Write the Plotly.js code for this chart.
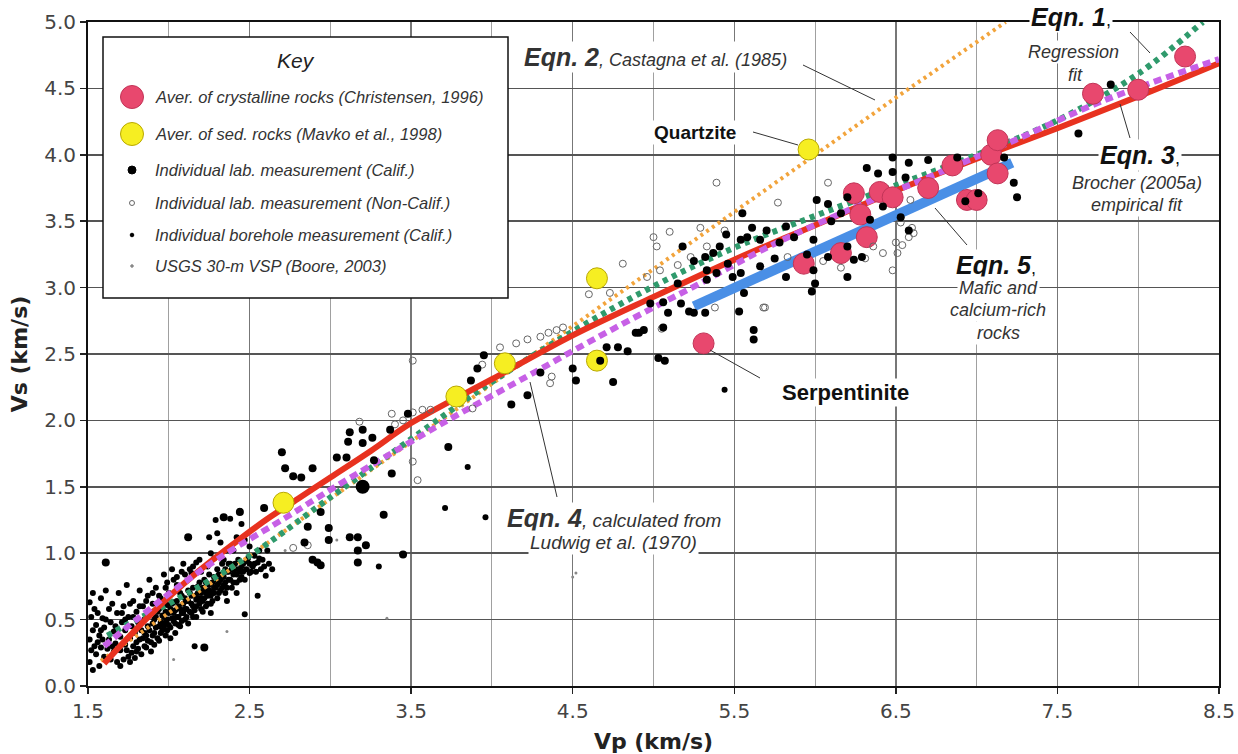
<!DOCTYPE html>
<html><head><meta charset="utf-8">
<script src="https://cdn.plot.ly/plotly-3.0.1.min.js"></script>
<style>html,body{margin:0;padding:0;background:#fff}#chart{width:1238px;height:754px}</style>
</head><body><div id="chart"></div>
<script>
// ---------------- DATA ----------------
// Eqn. 1 – regression fit (green dashed)
const eqn1Vp = [1.62,1.8,2.0,2.5,3.0,3.5,4.0,4.5,5.0,5.5,6.0,6.5,7.0,7.5,8.0,8.4];
const eqn1Vs = [0.38,0.50,0.62,0.98,1.42,1.86,2.29,2.67,3.01,3.30,3.54,3.77,4.00,4.26,4.61,5.0];
// Eqn. 2 – Castagna et al. (1985) (orange dotted)
const eqn2Vp = [1.58,2.5,3.5,4.5,5.5,6.5,7.18];
const eqn2Vs = [0.19,0.98,1.84,2.71,3.57,4.43,5.0];
// Eqn. 3 – Brocher (2005a) empirical fit (red solid)
const eqn3Vp = [1.6,1.8,2.0,2.2,2.4,2.6,2.8,3.0,3.25,3.5,4.0,4.5,5.0,5.5,6.0,6.5,7.0,7.5,8.0,8.5];
const eqn3Vs = [0.17,0.43,0.67,0.88,1.07,1.25,1.41,1.57,1.77,1.98,2.31,2.64,2.93,3.21,3.47,3.73,3.97,4.20,4.44,4.69];
// Eqn. 4 – calculated from Ludwig et al. (1970) (violet dashed)
const eqn4Vp = [1.6,1.8,2.04,2.32,2.74,3.03,3.5,3.74,4.26,4.63,5.0,5.27,5.7,6.2,6.7,7.2,7.77,8.5];
const eqn4Vs = [0.30,0.50,0.73,0.97,1.28,1.50,1.84,2.01,2.36,2.61,2.85,3.02,3.30,3.58,3.83,4.09,4.40,4.72];
// Eqn. 5 – mafic and calcium-rich rocks (blue)
const eqn5Vp = [5.25,7.22];
const eqn5Vs = [2.86,3.94];

// Averages of crystalline rocks (Christensen, 1996)
const crystallinePts = [[5.31,2.58],[5.93,3.18],[6.16,3.26],[6.32,3.38],[6.24,3.71],[6.40,3.72],[6.48,3.68],
  [6.70,3.75],[6.85,3.92],[6.94,3.66],[7.00,3.66],[7.09,4.00],[7.13,4.11],[7.13,3.86],[7.72,4.46],[8.00,4.49],[8.29,4.74],[6.28,3.55]];
// Averages of sedimentary rocks (Mavko et al., 1998)
const sedimentPts = [[2.71,1.38],[3.78,2.18],[4.08,2.43],[4.65,2.45],[4.65,3.07],[5.96,4.04]];
const bigBlackPts = [[3.20,1.50]];
// Individual lab measurements (Calif.)
const labCalifPts = [[2.70,1.76],[2.72,1.64],[2.77,1.58],[2.82,1.57],[2.89,1.64],[2.94,1.31],[2.99,1.19],[2.99,1.10],
  [2.89,0.95],[2.94,0.91],[3.12,1.91],[3.20,1.93],[3.11,1.84],[3.20,1.83],[3.26,1.87],[3.37,1.93],[3.04,1.72],[3.10,1.72],
  [3.27,1.70],[3.38,1.60],[3.12,1.12],[3.17,1.12],[3.22,1.06],[3.17,1.02],[3.17,0.93],[3.33,1.29],[3.45,0.99],[3.48,2.05],
  [3.73,1.80],[3.95,2.49],[3.91,2.39],[3.87,2.30],[4.12,2.12],[4.22,2.19],[4.30,2.36],[4.50,2.39],[4.52,2.30],[4.75,2.29],
  [2.22,0.29],[2.34,1.27],[2.44,1.31],[2.59,1.34],[2.86,1.20],[2.84,1.08],[2.92,0.93],[1.61,0.93],[2.12,1.12],
  [4.71,2.55],[4.78,2.55],[4.84,2.52],[4.91,2.66],[4.94,2.68],[5.03,2.47],[5.07,2.45],[4.98,2.88],[5.06,2.89],[5.06,2.70],
  [5.17,2.88],[5.22,2.82],[5.32,2.81],[5.15,3.03],[5.33,3.06],[5.39,3.11],[5.49,3.08],[5.54,3.11],[5.53,2.82],[5.56,2.96],
  [5.62,2.68],[5.62,2.61],[5.32,3.23],[5.37,3.26],[5.41,3.31],[5.58,3.38],[5.61,3.45],[5.66,3.36],[5.70,3.43],[5.78,3.34],
  [5.82,3.46],[5.87,3.38],[5.99,3.36],[5.99,3.13],[6.00,3.03],[5.98,2.97],[5.82,3.08],[6.01,3.66],[6.08,3.63],[6.16,3.56],
  [6.20,3.68],[6.20,3.08],[6.20,3.31],[6.32,3.90],[6.48,3.98],[6.58,3.94],[6.48,3.87],[6.39,3.86],[6.58,3.43],[6.34,3.51],
  [6.42,3.61],[6.53,3.53],[6.29,3.23],[6.24,3.21],[6.08,3.23],[5.54,3.36],[5.46,3.18],[5.33,3.13],[5.18,3.31],[5.66,3.16],
  [5.55,3.56],[5.09,2.81],[5.25,2.81],[4.89,2.66],[6.70,3.96],[6.88,3.98],[6.56,3.83],[7.17,3.98],[7.23,3.79],[7.25,3.68],
  [6.93,3.65],[7.01,3.71],[7.83,4.53],[7.63,4.16],[6.10,3.50],[5.95,3.25],[5.75,3.22],[5.45,3.40],[5.25,3.20],[4.67,2.45]];
// Individual lab measurements (Non-Calif.)
const labOtherPts = [[3.18,1.99],[3.38,2.05],[3.40,1.97],[3.51,2.06],[3.57,2.08],[3.62,2.08],[3.51,2.45],[3.51,1.69],
  [3.54,1.55],[2.77,1.04],[2.86,1.06],[3.94,2.42],[3.88,2.09],[4.22,2.61],[4.30,2.63],[4.35,2.66],[4.40,2.68],[4.44,2.70],
  [4.37,2.33],[4.36,2.28],[5.39,3.79],[5.77,3.64],[6.08,3.79],[5.10,3.42],[5.00,3.38],[5.02,3.31],[4.81,3.18],[5.29,3.45],
  [5.44,3.43],[5.23,3.23],[5.38,2.85],[5.68,2.85],[5.83,3.23],[6.05,3.20],[6.16,3.15],[6.31,3.22],[6.36,3.31],[6.42,3.26],
  [6.50,3.34],[6.54,3.32],[6.58,3.38],[6.61,3.41],[6.48,3.13],[6.59,3.66],[4.73,2.96],[5.04,3.13],[4.96,3.08],[5.33,3.31],
  [6.53,3.49],[6.60,3.45],[6.51,3.26],[5.05,2.69],[5.69,2.85],[4.05,2.55],[4.15,2.58],[4.60,2.95],[3.45,2.00],[5.15,3.17]];
// Individual borehole measurements (Calif.)
const boreholePts = [[1.51,0.18],[1.52,0.27],[1.51,0.35],[1.53,0.42],[1.52,0.52],[1.54,0.58],[1.51,0.63],[1.53,0.70],
  [1.55,0.24],[1.56,0.33],[1.55,0.46],[1.57,0.15],[1.58,0.29],[1.57,0.38],[1.59,0.51],[1.58,0.66],[1.60,0.22],[1.60,0.44],
  [1.61,0.72],[1.62,0.28],[1.63,0.35],[1.64,0.20],[1.64,0.48],[1.65,0.62],[1.66,0.26],[1.66,0.41],[1.67,0.32],[1.68,0.55],
  [1.68,0.18],[1.69,0.70],[1.70,0.37],[1.70,0.27],[1.71,0.48],[1.72,0.60],[1.73,0.31],[1.73,0.42],[1.74,0.76],[1.75,0.22],
  [1.75,0.52],[1.76,0.36],[1.77,0.45],[1.78,0.30],[1.78,0.64],[1.79,0.40],[1.80,0.56],[1.80,0.26],[1.81,0.48],[1.82,0.35],
  [1.82,0.72],[1.83,0.42],[1.84,0.60],[1.85,0.30],[1.85,0.50],[1.86,0.38],[1.87,0.68],[1.87,0.45],[1.88,0.55],[1.88,0.80],
  [1.89,0.33],[1.90,0.47],[1.90,0.62],[1.91,0.40],[1.92,0.52],[1.92,0.74],[1.93,0.36],[1.94,0.58],[1.94,0.45],[1.95,0.66],
  [1.96,0.42],[1.96,0.53],[1.97,0.84],[1.98,0.48],[1.98,0.38],[1.99,0.61],[2.00,0.55],[2.00,0.70],[2.01,0.44],[2.02,0.51],
  [2.02,0.88],[2.03,0.63],[2.04,0.47],[2.04,0.57],[2.05,0.76],[2.06,0.52],[2.06,0.60],[2.07,0.45],[2.08,0.68],[2.08,0.55],
  [2.09,0.92],[2.10,0.58],[2.10,0.50],[2.11,0.64],[2.12,0.72],[2.13,0.56],[2.14,0.62],[2.14,0.85],[2.15,0.52],[2.16,0.68],
  [2.16,0.30],[2.17,0.60],[2.18,0.75],[2.18,0.66],[2.19,0.95],[2.20,0.58],[2.20,0.70],[2.21,0.64],[2.22,0.80],[2.22,0.72],
  [2.23,0.60],[2.24,0.68],[2.24,0.90],[2.25,0.76],[2.26,0.62],[2.26,1.00],[2.27,0.70],[2.28,0.82],[2.28,0.74],[2.29,1.25],
  [2.30,0.66],[2.30,0.88],[2.31,0.78],[2.32,0.72],[2.32,1.08],[2.33,0.84],[2.34,0.76],[2.34,0.95],[2.35,0.70],[2.36,0.86],
  [2.37,0.80],[2.38,1.26],[2.38,0.92],[2.39,0.74],[2.40,0.84],[2.40,1.02],[2.41,0.88],[2.42,0.78],[2.43,0.95],[2.44,1.32],
  [2.44,0.86],[2.45,0.82],[2.46,0.92],[2.47,0.54],[2.47,1.10],[2.48,0.88],[2.49,0.96],[2.50,0.85],[2.50,1.05],[2.52,0.90],
  [2.53,0.98],[2.54,0.86],[2.55,0.93],[2.56,1.02],[2.57,0.88],[2.58,0.95],[2.60,0.83],[2.62,0.92],[2.64,0.88],[2.55,0.68],
  [2.61,1.02],[2.15,0.90],[2.17,0.93],[2.13,0.88],[2.05,0.82],[2.08,0.86],[1.98,0.74],[2.26,0.55],[2.36,0.64],[2.42,0.70],
  [1.70,0.15],[1.72,0.20],[1.74,0.27],[1.76,0.18],[1.77,0.25],[1.79,0.21],[1.80,0.33],[1.81,0.28],[1.83,0.24],[1.84,0.36],
  [1.85,0.40],[1.86,0.29],[1.87,0.34],[1.88,0.42],[1.89,0.26],[1.90,0.38],[1.91,0.31],[1.91,0.50],[1.92,0.44],[1.93,0.56],
  [1.94,0.34],[1.95,0.48],[1.95,0.40],[1.96,0.60],[1.97,0.45],[1.97,0.52],[1.98,0.56],[1.99,0.42],[1.99,0.50],[2.00,0.46],
  [2.01,0.58],[2.01,0.36],[2.02,0.62],[2.03,0.49],[2.03,0.55],[2.04,0.40],[2.05,0.52],[2.05,0.64],[2.06,0.46],[2.07,0.58],
  [2.07,0.70],[2.08,0.49],[2.09,0.62],[2.09,0.55],[2.10,0.66],[2.11,0.52],[2.11,0.58],[2.12,0.47],[2.12,0.64],[2.13,0.70],
  [2.14,0.55],[2.14,0.68],[2.15,0.60],[2.15,0.74],[2.16,0.57],[2.17,0.65],[2.17,0.52],[2.18,0.70],[2.19,0.62],[2.19,0.78],
  [2.20,0.66],[2.21,0.74],[2.21,0.56],[2.22,0.66],[2.23,0.78],[2.23,0.70],[2.24,0.62],[2.25,0.72],[2.25,0.84],[2.26,0.68],
  [2.27,0.78],[2.27,0.64],[2.28,0.70],[2.29,0.80],[2.29,0.74],[2.30,0.76],[2.31,0.70],[2.31,0.84],[2.32,0.80],[2.33,0.74],
  [2.33,0.92],[2.34,0.82],[2.35,0.78],[2.35,0.88],[2.36,0.74],[2.37,0.86],[2.37,0.92],[2.38,0.80],[2.39,0.88],[2.40,0.78],
  [2.41,0.92],[2.42,0.84],[2.43,0.88],[2.44,0.80],[2.45,0.90],[2.46,0.86],[2.47,0.80],[2.48,0.94],[2.50,0.92],[2.51,0.86],
  [2.53,0.92],[2.56,0.96],[2.59,0.90],[1.53,0.12],[1.54,0.30],[1.56,0.55],[1.58,0.42],[1.59,0.35],[1.61,0.50],[1.63,0.58],
  [1.65,0.30],[1.67,0.45],[1.69,0.38],[1.71,0.55],[1.73,0.50],[1.76,0.62],[1.78,0.52],[1.82,0.60],[1.86,0.64],[1.90,0.70],
  [1.94,0.68],[1.99,0.78],[2.03,0.80],[2.10,0.84],[2.20,0.86],[2.28,0.96],[2.35,1.02],[2.42,1.12],[2.45,1.22],[2.30,1.15],
  [2.25,1.12],[3.85,1.65],[5.44,2.23],[3.30,0.90],[3.71,1.34],[3.96,1.27]];
// USGS 30-m VSP (Boore, 2003)
const vspPts = [[4.50,0.82],[3.35,0.51],[2.03,0.20],[2.36,0.41],[3.04,1.10],[4.52,0.85],[2.72,1.02]];

// ---------------- LAYOUT HELPERS (pixel placement of decorations) ----------------
const W=1238,H=754,ML=88,MR=19,MT=22,MB=68,XR=[1.5,8.5],YR=[0,5];
const PW=W-ML-MR, PH=H-MT-MB;
const dx = px => XR[0] + (px-ML)/PW*(XR[1]-XR[0]);
const dy = py => YR[0] + (H-MB-py)/PH*(YR[1]-YR[0]);
const ppy = py => (H-MB-py)/PH;
const xs = a => a.map(p=>p[0]);
const ys = a => a.map(p=>p[1]);

const traces = [
  {x:xs(boreholePts),y:ys(boreholePts),mode:'markers',marker:{size:6,color:'#000'}},
  {x:xs(vspPts),y:ys(vspPts),mode:'markers',marker:{size:3,color:'#888'}},
  {x:eqn5Vp,y:eqn5Vs,mode:'lines',line:{color:'#4a8fe6',width:10}},
  {x:eqn2Vp,y:eqn2Vs,mode:'lines',line:{color:'#f2a43c',width:4,dash:'3px,4px'}},
  {x:eqn1Vp,y:eqn1Vs,mode:'lines',line:{color:'#2f9a6c',width:6,dash:'5px,5px',shape:'spline'}},
  {x:eqn3Vp,y:eqn3Vs,mode:'lines',line:{color:'#e8321f',width:6,shape:'spline'}},
  {x:eqn4Vp,y:eqn4Vs,mode:'lines',line:{color:'#c760e6',width:6,dash:'8px,5px',shape:'spline'}},
  {x:xs(crystallinePts),y:ys(crystallinePts),mode:'markers',marker:{size:21,color:'#e8486e',line:{color:'#c23457',width:1}}},
  {x:xs(sedimentPts),y:ys(sedimentPts),mode:'markers',marker:{size:21,color:'#f6ee22',line:{color:'#b9a800',width:1}}},
  {x:xs(labOtherPts),y:ys(labOtherPts),mode:'markers',marker:{size:7,symbol:'circle-open',color:'#666',line:{width:1}}},
  {x:xs(labCalifPts),y:ys(labCalifPts),mode:'markers',marker:{size:8,color:'#000'}},
  {x:xs(bigBlackPts),y:ys(bigBlackPts),mode:'markers',marker:{size:14,color:'#000'}}
];

const AF = 'Liberation Sans, Arial, sans-serif';
function ann(px,py,text,size,extra){
  return Object.assign({x:dx(px),y:dy(py),xref:'x',yref:'y',text:text,showarrow:false,
    font:{family:AF,size:size,color:'#111'},bgcolor:'#ffffff',borderpad:1,xanchor:'center',yanchor:'middle'},extra||{});
}
const sub = {family:AF,size:18,color:'#333'};
function leg(py,text){
  return {x:dx(153),y:dy(py),xref:'x',yref:'y',text:'<i>'+text+'</i>',showarrow:false,
    font:{family:AF,size:16.5,color:'#333'},xanchor:'left',yanchor:'middle'};
}
const big = t => '<span style="font-size:25px"><b><i>'+t+'</i></b></span>';

const annotations = [
  ann(655,57, big('Eqn. 2')+'<i>, Castagna et al. (1985)</i>',18,{font:sub}),
  ann(695,132,'<b>Quartzite</b>',19),
  ann(1071,17, big('Eqn. 1')+',',18,{yref:'paper',y:ppy(17)}),
  ann(1073,52,'<i>Regression</i>',18,{font:sub}),
  ann(1075,75,'<i>fit</i>',18,{font:sub}),
  ann(1140,155, big('Eqn. 3')+',',18),
  ann(1137,183,'<i>Brocher (2005a)</i>',18,{font:sub}),
  ann(1137,205,'<i>empirical fit</i>',18,{font:sub}),
  ann(996,265, big('Eqn. 5')+',',18),
  ann(998,288,'<i>Mafic and</i>',18,{font:sub}),
  ann(998,310,'<i>calcium-rich</i>',18,{font:sub}),
  ann(998,333,'<i>rocks</i>',18,{font:sub}),
  ann(845,392,'<b>Serpentinite</b>',22),
  ann(614,518, big('Eqn. 4')+'<i>, calculated from</i>',19,{font:{family:AF,size:19,color:'#333'}}),
  ann(613,542,'<i>Ludwig et al. (1970)</i>',19,{font:{family:AF,size:19,color:'#333'}}),
  // key
  {x:dx(296),y:dy(60),xref:'x',yref:'y',text:'<i>Key</i>',showarrow:false,font:{family:AF,size:21,color:'#222'},xanchor:'center',yanchor:'middle'},
  leg(97,'Aver. of crystalline rocks (Christensen, 1996)'),
  leg(134,'Aver. of sed. rocks (Mavko et al., 1998)'),
  leg(170,'Individual lab. measurement (Calif.)'),
  leg(203,'Individual lab. measurement (Non-Calif.)'),
  leg(235,'Individual borehole measurement (Calif.)'),
  leg(266,'USGS 30-m VSP (Boore, 2003)')
];

function seg(p1,p2){
  return {type:'line',xref:'x',yref:'y',x0:dx(p1[0]),y0:dy(p1[1]),x1:dx(p2[0]),y1:dy(p2[1]),line:{color:'#333',width:1},layer:'above'};
}
function dot(px,py,r,fill,lc){
  return {type:'circle',xref:'x',yref:'y',x0:dx(px-r),x1:dx(px+r),y0:dy(py+r),y1:dy(py-r),
    fillcolor:fill,line:{color:lc||fill,width:1},layer:'above'};
}
const shapes = [
  seg([803,65],[875,100]),
  seg([753,132],[798,145]),
  seg([1130,32],[1150,53]),
  seg([1130,138],[1120,104]),
  seg([935,208],[967,245]),
  seg([710,350],[760,378]),
  seg([530,382],[557,497]),
  {type:'rect',xref:'x',yref:'y',x0:dx(103),x1:dx(508),y0:dy(298),y1:dy(37),fillcolor:'#fff',line:{color:'#111',width:1.5},layer:'above'},
  dot(132,97,11.5,'#e8486e','#c23457'),
  dot(132,134,11.5,'#f6ee22','#b9a800'),
  dot(132,170,4,'#000'),
  dot(132,203,2.5,'#fff','#666'),
  dot(132,235,1.8,'#000'),
  dot(132,266,1.3,'#888')
];

const layout = {
  width:W,height:H,margin:{l:ML,r:MR,t:MT,b:MB},
  paper_bgcolor:'#fff',plot_bgcolor:'#fff',showlegend:false,
  font:{family:'DejaVu Sans, Verdana, sans-serif',color:'#333'},
  xaxis:{range:XR,tick0:1.5,dtick:1,tickformat:'.1f',ticks:'outside',ticklen:6,tickwidth:1.5,tickcolor:'#222',
    tickfont:{size:20,color:'#444'},showgrid:true,gridcolor:'#777',gridwidth:1.5,
    minor:{tick0:1.5,dtick:0.5,showgrid:true,gridcolor:'#a0a0a0',gridwidth:1,ticks:''},
    showline:true,linecolor:'#111',linewidth:2,mirror:true,zeroline:false,
    title:{text:'Vp (km/s)',font:{size:22,weight:'bold',color:'#222'},standoff:12}},
  yaxis:{range:YR,tick0:0,dtick:0.5,tickformat:'.1f',ticks:'outside',ticklen:6,tickwidth:1.5,tickcolor:'#222',
    tickfont:{size:20,color:'#444'},showgrid:true,gridcolor:'#555',gridwidth:1.5,
    showline:true,linecolor:'#111',linewidth:2,mirror:true,zeroline:false,
    title:{text:'Vs (km/s)',font:{size:22,weight:'bold',color:'#222'},standoff:10}},
  annotations:annotations,shapes:shapes
};
Plotly.newPlot('chart',traces,layout,{staticPlot:true,displayModeBar:false});
</script></body></html>
